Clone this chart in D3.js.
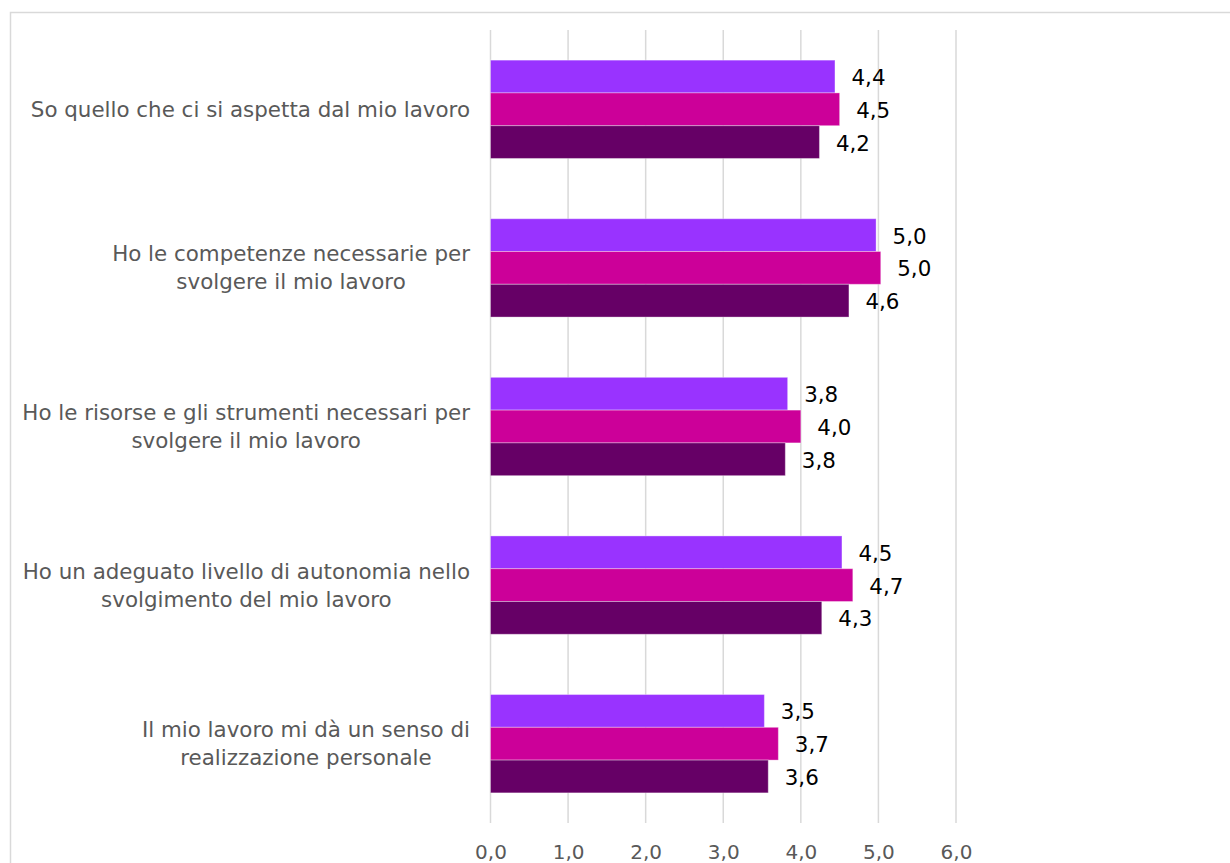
<!DOCTYPE html>
<html>
<head>
<meta charset="utf-8">
<script src="https://cdn.jsdelivr.net/npm/d3@7"></script>
<style>
  html, body { margin: 0; padding: 0; background: #ffffff; }
  svg { display: block; font-family: "DejaVu Sans", Verdana, sans-serif; }
</style>
</head>
<body>
<svg id="chart" width="1230" height="863"></svg>
<script>
// Survey statements (one per group of bars), top to bottom
const categories = [
  ["So quello che ci si aspetta dal mio lavoro"],
  ["Ho le competenze necessarie per", "svolgere il mio lavoro"],
  ["Ho le risorse e gli strumenti necessari per", "svolgere il mio lavoro"],
  ["Ho un adeguato livello di autonomia nello", "svolgimento del mio lavoro"],
  ["Il mio lavoro mi dà un senso di", "realizzazione personale"]
];

// Three series per statement, drawn top to bottom within each group
const seriesNames = ["serie1", "serie2", "serie3"];
const serie1 = [4.44, 4.97, 3.83, 4.53, 3.53];
const serie2 = [4.50, 5.03, 4.00, 4.67, 3.71];
const serie3 = [4.24, 4.62, 3.80, 4.27, 3.58];
const seriesColors = ["#9933ff", "#cc0099", "#660066"];

// Axis ticks
const xTicks = [0, 1, 2, 3, 4, 5, 6];

const seriesValues = [serie1, serie2, serie3];
const fmt = v => v.toFixed(1).replace(".", ",");

const svg = d3.select("#chart");

// Chart frame
svg.append("rect")
  .attr("x", 10.5).attr("y", 12.5)
  .attr("width", 1240).attr("height", 900)
  .attr("fill", "#ffffff")
  .attr("stroke", "#d9d9d9").attr("stroke-width", 1.5);

const plotTop = 30, plotBottom = 823;
const x = d3.scaleLinear().domain([0, 6]).range([490.5, 956]);
const catKeys = categories.map((c, i) => i);
const y = d3.scaleBand().domain(catKeys).range([plotTop, plotBottom])
  .paddingInner(0.38).paddingOuter(0.19);
const ySeries = d3.scaleBand().domain(seriesNames).range([0, y.bandwidth()]).padding(0);

// Vertical gridlines
svg.append("g").selectAll("line")
  .data(xTicks)
  .join("line")
  .attr("x1", d => x(d)).attr("x2", d => x(d))
  .attr("y1", plotTop).attr("y2", plotBottom)
  .attr("stroke", "#d9d9d9").attr("stroke-width", 1.5);

// Bars
const rows = [];
catKeys.forEach(ci => {
  seriesNames.forEach((s, si) => {
    rows.push({ ci, s, si, v: seriesValues[si][ci] });
  });
});

const barG = svg.append("g");
barG.selectAll("rect")
  .data(rows)
  .join("rect")
  .attr("x", x(0))
  .attr("y", d => y(d.ci) + ySeries(d.s))
  .attr("width", d => x(d.v) - x(0))
  .attr("height", ySeries.bandwidth())
  .attr("fill", d => seriesColors[d.si])
  .attr("stroke", "rgba(255,255,255,0.35)")
  .attr("stroke-width", 1);

// Value labels
barG.selectAll("text")
  .data(rows)
  .join("text")
  .attr("x", d => x(d.v) + 16.5)
  .attr("y", d => y(d.ci) + ySeries(d.s) + ySeries.bandwidth() / 2 + 1)
  .attr("dominant-baseline", "central")
  .attr("font-size", 21.4)
  .attr("fill", "#000000")
  .text(d => fmt(d.v));

// X axis tick labels
const xAxis = d3.axisBottom(x).tickValues(xTicks).tickFormat(fmt).tickSize(0).tickPadding(0);
const axG = svg.append("g").attr("transform", `translate(0, ${plotBottom})`).call(xAxis);
axG.select(".domain").remove();
axG.selectAll("text")
  .attr("y", 36)
  .attr("dy", null)
  .attr("dominant-baseline", "auto")
  .attr("font-size", 20)
  .attr("font-family", "DejaVu Sans, Verdana, sans-serif")
  .attr("fill", "#595959");

// Category labels: centred block, right edge next to the axis
const labelRight = 470;
const lineH = 28;
const catG = svg.append("g");
categories.forEach((lines, ci) => {
  const g = catG.append("g");
  const cy = y(ci) + y.bandwidth() / 2;
  const texts = lines.map((ln, li) => g.append("text")
    .attr("font-size", 21.4)
    .attr("fill", "#595959")
    .attr("text-anchor", "middle")
    .attr("dominant-baseline", "central")
    .attr("y", cy + (li - (lines.length - 1) / 2) * lineH)
    .text(ln));
  const maxW = d3.max(texts, t => t.node().getComputedTextLength());
  texts.forEach(t => t.attr("x", labelRight - maxW / 2));
});
</script>
</body>
</html>
